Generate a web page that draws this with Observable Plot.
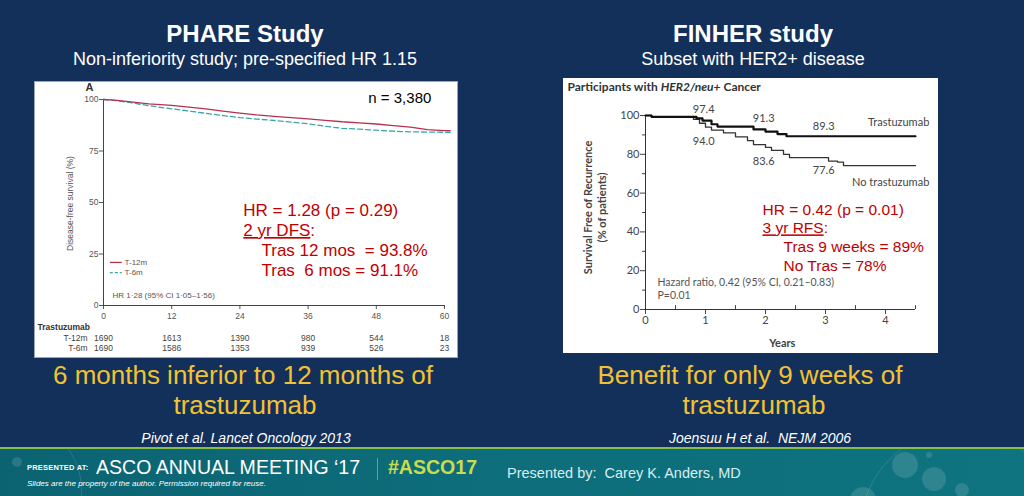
<!DOCTYPE html>
<html><head><meta charset="utf-8">
<script src="https://cdn.jsdelivr.net/npm/d3@7"></script>
<script src="https://cdn.jsdelivr.net/npm/@observablehq/plot@0.6"></script>
<style>
html,body{margin:0;padding:0;}
body{width:1024px;height:496px;position:relative;overflow:hidden;background:#13305b;font-family:"Liberation Sans",Arial,sans-serif;}
.t{position:absolute;white-space:pre;line-height:1.15;}
.c{text-align:center;}
#phare{position:absolute;left:35px;top:82px;width:422px;height:275px;outline:1px solid #9aa7b8;}
#finher{position:absolute;left:563px;top:78px;width:375px;height:275px;}
#footer{position:absolute;left:0;top:447px;width:1024px;height:49px;border-top:2px solid #86c04a;background:linear-gradient(90deg,#0b6372,#0e6e7b 50%,#0f7380);overflow:hidden;}
.dot{position:absolute;border-radius:50%;background:rgba(255,255,255,0.13);}
.ring{position:absolute;border-radius:50%;border:1px solid rgba(255,255,255,0.12);}
svg text{white-space:pre;}
</style></head><body>

<div class="t c" style="left:45px;width:400px;top:20px;font-size:24px;font-weight:bold;color:#fff">PHARE Study</div>
<div class="t c" style="left:45px;width:400px;top:49px;font-size:18px;color:#fff">Non-inferiority study; pre-specified HR 1.15</div>
<div class="t c" style="left:553px;width:400px;top:20px;font-size:24px;font-weight:bold;color:#fff">FINHER study</div>
<div class="t c" style="left:553px;width:400px;top:49px;font-size:18px;color:#fff">Subset with HER2+ disease</div>

<div id="phare"></div>
<div id="finher"></div>

<div class="t c" style="left:43px;width:400px;top:361px;font-size:26px;color:#f1c232">6 months inferior to 12 months of</div>
<div class="t c" style="left:45px;width:400px;top:391px;font-size:26px;color:#f1c232">trastuzumab</div>
<div class="t c" style="left:550px;width:400px;top:361px;font-size:26px;color:#f1c232">Benefit for only 9 weeks of</div>
<div class="t c" style="left:554px;width:400px;top:391px;font-size:26px;color:#f1c232">trastuzumab</div>

<div class="t c" style="left:46px;width:400px;top:430px;font-size:14px;font-style:italic;color:#fff">Pivot et al. Lancet Oncology 2013</div>
<div class="t c" style="left:560px;width:400px;top:430px;font-size:14px;font-style:italic;color:#fff">Joensuu H et al.  NEJM 2006</div>

<div id="footer">
  <div class="ring" style="left:-60px;top:-30px;width:140px;height:140px;"></div>
  <div class="dot" style="left:12px;top:8px;width:10px;height:10px;"></div>
  <div class="ring" style="left:860px;top:-20px;width:200px;height:200px;"></div>
  <div class="dot" style="left:892px;top:3px;width:26px;height:26px;"></div>
  <div class="dot" style="left:922px;top:18px;width:24px;height:24px;"></div>
  <div class="dot" style="left:955px;top:34px;width:14px;height:14px;"></div>
  <div class="dot" style="left:926px;top:3px;width:6px;height:6px;"></div>
  <div class="dot" style="left:850px;top:38px;width:26px;height:26px;"></div>
  <div class="t" style="left:27px;top:15px;font-size:7.5px;font-weight:bold;color:#fff;letter-spacing:0.2px">PRESENTED AT:</div>
  <div class="t" style="left:96px;top:6px;font-size:21px;color:#fff;transform:scaleX(0.93);transform-origin:left center">ASCO ANNUAL MEETING ‘17</div>
  <div style="position:absolute;left:377px;top:9px;width:1px;height:22px;background:rgba(255,255,255,0.35)"></div>
  <div class="t" style="left:388px;top:6px;font-size:21px;font-weight:bold;color:#c9dc4e;transform:scaleX(0.93);transform-origin:left center">#ASCO17</div>
  <div class="t" style="left:27px;top:30px;font-size:8px;font-style:italic;color:#fff">Slides are the property of the author. Permission required for reuse.</div>
  <div class="t" style="left:507px;top:16px;font-size:14.5px;color:#d6eef0">Presented by:  Carey K. Anders, MD</div>
</div>

<script>
// ---------- PHARE data ----------
const phareMonths = [0,2,4,6,8,10,12,15,18,21,24,27,30,33,36,39,42,45,48,51,54,57,60,61];
const phareT12 = [100,99.7,99.1,98.5,97.9,97.5,97.1,96.3,95.4,94.4,93.4,92.5,91.8,91.2,90.6,89.9,89.2,88.7,88.1,87.3,86.6,85.4,84.9,84.9];
const phareT6  = [100,99.5,98.8,97.9,97.0,96.2,95.5,94.4,93.3,92.2,91.2,90.5,89.8,89.0,88.2,87.0,86.0,85.6,85.1,84.6,84.3,84.2,84.1,84.1];
const phareTicksX = [0,12,24,36,48,60];
const phareTicksY = [0,25,50,75,100];
const phareRiskT12 = [1690,1613,1390,980,544,18];
const phareRiskT6  = [1690,1586,1353,939,526,23];
const phareSeries = ["T-12m","T-6m"];

// ---------- FINHER data ----------
const finherTrasYears = [0,0.1,0.75,0.85,0.95,1.1,1.2,1.75,1.8,2.0,2.2,2.35,4.5];
const finherTrasVals  = [100,99.3,99.3,98.5,97.4,95.5,94.3,94.3,92.8,91.7,90.4,89.3,89.3];
const finherNoYears = [0,0.1,0.7,0.8,0.9,1.0,1.1,1.3,1.5,1.7,1.8,2.0,2.1,2.3,2.4,3.05,3.2,3.3,4.5];
const finherNoVals  = [100,99.3,99.3,98,96,94,92.5,91,89,87,85,83.6,82,80,78.3,76.5,76,74.2,74.2];
const finherTicksX = [0,1,2,3,4];
const finherMinorX = [0.5,1.5,2.5,3.5,4.5];
const finherTicksY = [0,20,40,60,80,100];
const finherMinorY = [10,30,50,70,90];
const finherPointYears = [1,2,3];
const finherTrasPoint = ["97.4","91.3","89.3"];
const finherNoPoint = ["94.0","83.6","77.6"];

const t12 = phareMonths.map((m,i)=>({m, v: phareT12[i]}));
const t6  = phareMonths.map((m,i)=>({m, v: phareT6[i]}));
const crimson = "#b8304f", teal = "#3aa6ab", red = "#c00000";
const asis = d => String(d);

const txt = (s, x, y, o={}) => Plot.text([s], {x: () => x, y: () => y, text: d => d, ...o});

const phare = Plot.plot({
  width: 422, height: 275,
  marginLeft: 68, marginRight: 13, marginTop: 17, marginBottom: 52,
  style: {background: "white", fontFamily: "'Liberation Sans Narrow','Liberation Sans',Arial,sans-serif", overflow: "visible", color: "#444"},
  x: {domain: [0,60]},
  y: {domain: [0,100]},
  marks: [
    Plot.axisY({ticks: phareTicksY, tickFormat: asis, tickSize: 4, tickPadding: 1, fontSize: 8.5, color: "#555", label: null}),
    Plot.axisX({ticks: phareTicksX, tickFormat: asis, tickSize: 4, tickPadding: 3, fontSize: 8.5, color: "#555", label: null}),
    Plot.ruleX([0], {y1: 0, y2: 100, stroke: "#444"}),
    Plot.ruleY([0], {x1: 0, x2: 60, stroke: "#444"}),
    Plot.line(t6,  {x: "m", y: "v", stroke: teal, strokeWidth: 1.3, strokeDasharray: "5,3"}),
    Plot.line(t12, {x: "m", y: "v", stroke: crimson, strokeWidth: 1.3}),
    // legend
    Plot.ruleY([20.9], {x1: 1.2, x2: 3.3, stroke: crimson, strokeWidth: 1.3}),
    Plot.ruleY([16.0], {x1: 1.2, x2: 3.3, stroke: teal, strokeWidth: 1.3, strokeDasharray: "3,2"}),
    txt(phareSeries[0], 3.7, 20.9, {textAnchor: "start", fontSize: 8, fill: "#555"}),
    txt(phareSeries[1], 3.7, 16.0, {textAnchor: "start", fontSize: 8, fill: "#555"}),
    txt("HR 1·28 (95% CI 1·05–1·56)", 1.6, 4.9, {textAnchor: "start", fontSize: 8, fill: "#555"}),
    txt("A", -2.46, 105.8, {fontSize: 11, fontWeight: "bold", fill: "#333"}),
    txt("Disease-free survival (%)", -5.8, 49.5, {rotate: -90, fontSize: 8.5, fill: "#555"}),
    txt("n = 3,380", 46.6, 100.5, {textAnchor: "start", fontSize: 15, fill: "#000", fontFamily: "'Liberation Sans',Arial,sans-serif"}),
    txt("HR = 1.28 (p = 0.29)", 24.6, 46.1, {textAnchor: "start", fontSize: 17, fill: red, fontFamily: "'Liberation Sans',Arial,sans-serif"}),
    txt("2 yr DFS:", 24.6, 36.4, {textAnchor: "start", fontSize: 17, fill: red, fontFamily: "'Liberation Sans',Arial,sans-serif"}),
    txt("Tras 12 mos  = 93.8%", 27.8, 26.7, {textAnchor: "start", fontSize: 17, fill: red, fontFamily: "'Liberation Sans',Arial,sans-serif"}),
    txt("Tras  6 mos = 91.1%", 27.8, 17, {textAnchor: "start", fontSize: 17, fill: red, fontFamily: "'Liberation Sans',Arial,sans-serif"}),
    // risk table
    txt("Trastuzumab", -11.6, -10.7, {textAnchor: "start", fontSize: 8.5, fontWeight: "bold", fill: "#333"}),
    txt(phareSeries[0], -2.8, -16, {textAnchor: "end", fontSize: 8.5, fill: "#444"}),
    txt(phareSeries[1], -2.8, -20.9, {textAnchor: "end", fontSize: 8.5, fill: "#444"}),
    Plot.text(phareTicksX, {x: d => d, y: () => -16, text: (d,i) => String(phareRiskT12[i]), fontSize: 8.5, fill: "#444"}),
    Plot.text(phareTicksX, {x: d => d, y: () => -20.9, text: (d,i) => String(phareRiskT6[i]), fontSize: 8.5, fill: "#444"})
  ]
});
document.getElementById("phare").appendChild(phare);

const tras = finherTrasYears.map((t,i)=>({t, v: finherTrasVals[i]}));
const notr = finherNoYears.map((t,i)=>({t, v: finherNoVals[i]}));
const nejm = "Lato,'Open Sans',sans-serif";
const finher = Plot.plot({
  width: 375, height: 275,
  marginLeft: 82, marginRight: 23, marginTop: 37, marginBottom: 44,
  style: {background: "white", fontFamily: nejm, overflow: "visible", color: "#333"},
  x: {domain: [0,4.5]},
  y: {domain: [0,100]},
  marks: [
    Plot.axisY({ticks: finherTicksY, tickFormat: asis, tickSize: 5, tickPadding: 1, fontSize: 11, color: "#444", label: null}),
    Plot.axisY({ticks: finherMinorY, tickSize: 3, tickFormat: () => "", color: "#444", label: null}),
    Plot.axisX({ticks: finherTicksX, tickFormat: asis, tickSize: 5, tickPadding: 2, fontSize: 11, color: "#444", label: null}),
    Plot.ruleX(finherMinorX, {x: d => d, y1: 0, y2: 2, stroke: "#444"}),
    Plot.ruleX([0], {y1: 0, y2: 100, stroke: "#333"}),
    Plot.ruleY([0], {x1: 0, x2: 4.5, stroke: "#333"}),
    Plot.line(notr, {x: "t", y: "v", curve: "step-after", stroke: "#333", strokeWidth: 1.3}),
    Plot.line(tras, {x: "t", y: "v", curve: "step-after", stroke: "#111", strokeWidth: 2.2}),
    Plot.text(finherPointYears, {x: d => d - 0.03, y: [103, 98.5, 94.3], text: (d,i) => finherTrasPoint[i], fontSize: 11, fill: "#444"}),
    Plot.text(finherPointYears, {x: d => d - 0.03, y: [86.6, 76.3, 71.6], text: (d,i) => finherNoPoint[i], fontSize: 11, fill: "#444"}),
    txt("Trastuzumab", 4.73, 96.4, {textAnchor: "end", fontSize: 11, fill: "#444"}),
    txt("No trastuzumab", 4.73, 65.5, {textAnchor: "end", fontSize: 11, fill: "#444"}),
    txt("Participants with HER2/neu+ Cancer", -1.3, 114.4, {textAnchor: "start", fontSize: 12, fontWeight: "bold", fill: "#333"}),
    txt("Survival Free of Recurrence", -0.95, 52.6, {rotate: -90, fontSize: 11, fontWeight: "bold", fill: "#444"}),
    txt("(% of patients)", -0.72, 52.6, {rotate: -90, fontSize: 11, fontWeight: "bold", fill: "#444"}),
    txt("Years", 2.28, -17.5, {fontSize: 11, fontWeight: "bold", fill: "#444"}),
    txt("Hazard ratio, 0.42 (95% CI, 0.21–0.83)", 0.2, 13.9, {textAnchor: "start", fontSize: 10.5, fill: "#555"}),
    txt("P=0.01", 0.2, 7.2, {textAnchor: "start", fontSize: 10.5, fill: "#555"}),
    txt("HR = 0.42 (p = 0.01)", 1.95, 51.5, {textAnchor: "start", fontSize: 15.5, fill: red, fontFamily: "'Liberation Sans',Arial,sans-serif"}),
    txt("3 yr RFS:", 1.95, 41.8, {textAnchor: "start", fontSize: 15.5, fill: red, fontFamily: "'Liberation Sans',Arial,sans-serif"}),
    txt("Tras 9 weeks = 89%", 2.3, 32, {textAnchor: "start", fontSize: 15.5, fill: red, fontFamily: "'Liberation Sans',Arial,sans-serif"}),
    txt("No Tras = 78%", 2.3, 22.2, {textAnchor: "start", fontSize: 15.5, fill: red, fontFamily: "'Liberation Sans',Arial,sans-serif"})
  ]
});
document.getElementById("finher").appendChild(finher);

// mixed styling inside single text labels (underline / italic)
function restyle(svg, full, parts) {
  d3.select(svg).selectAll("text").filter(function(){ return this.textContent === full; }).each(function(){
    const el = d3.select(this);
    el.text(null);
    parts.forEach(p => {
      const ts = el.append("tspan").text(p.s);
      if (p.u) ts.style("text-decoration", "underline");
      if (p.i) ts.style("font-style", "italic");
    });
  });
}
restyle(phare, "2 yr DFS:", [{s: "2 yr DFS", u: true}, {s: ":"}]);
restyle(finher, "3 yr RFS:", [{s: "3 yr RFS", u: true}, {s: ":"}]);
restyle(finher, "Participants with HER2/neu+ Cancer", [{s: "Participants with "}, {s: "HER2/neu+", i: true}, {s: " Cancer"}]);
</script>
</body></html>
